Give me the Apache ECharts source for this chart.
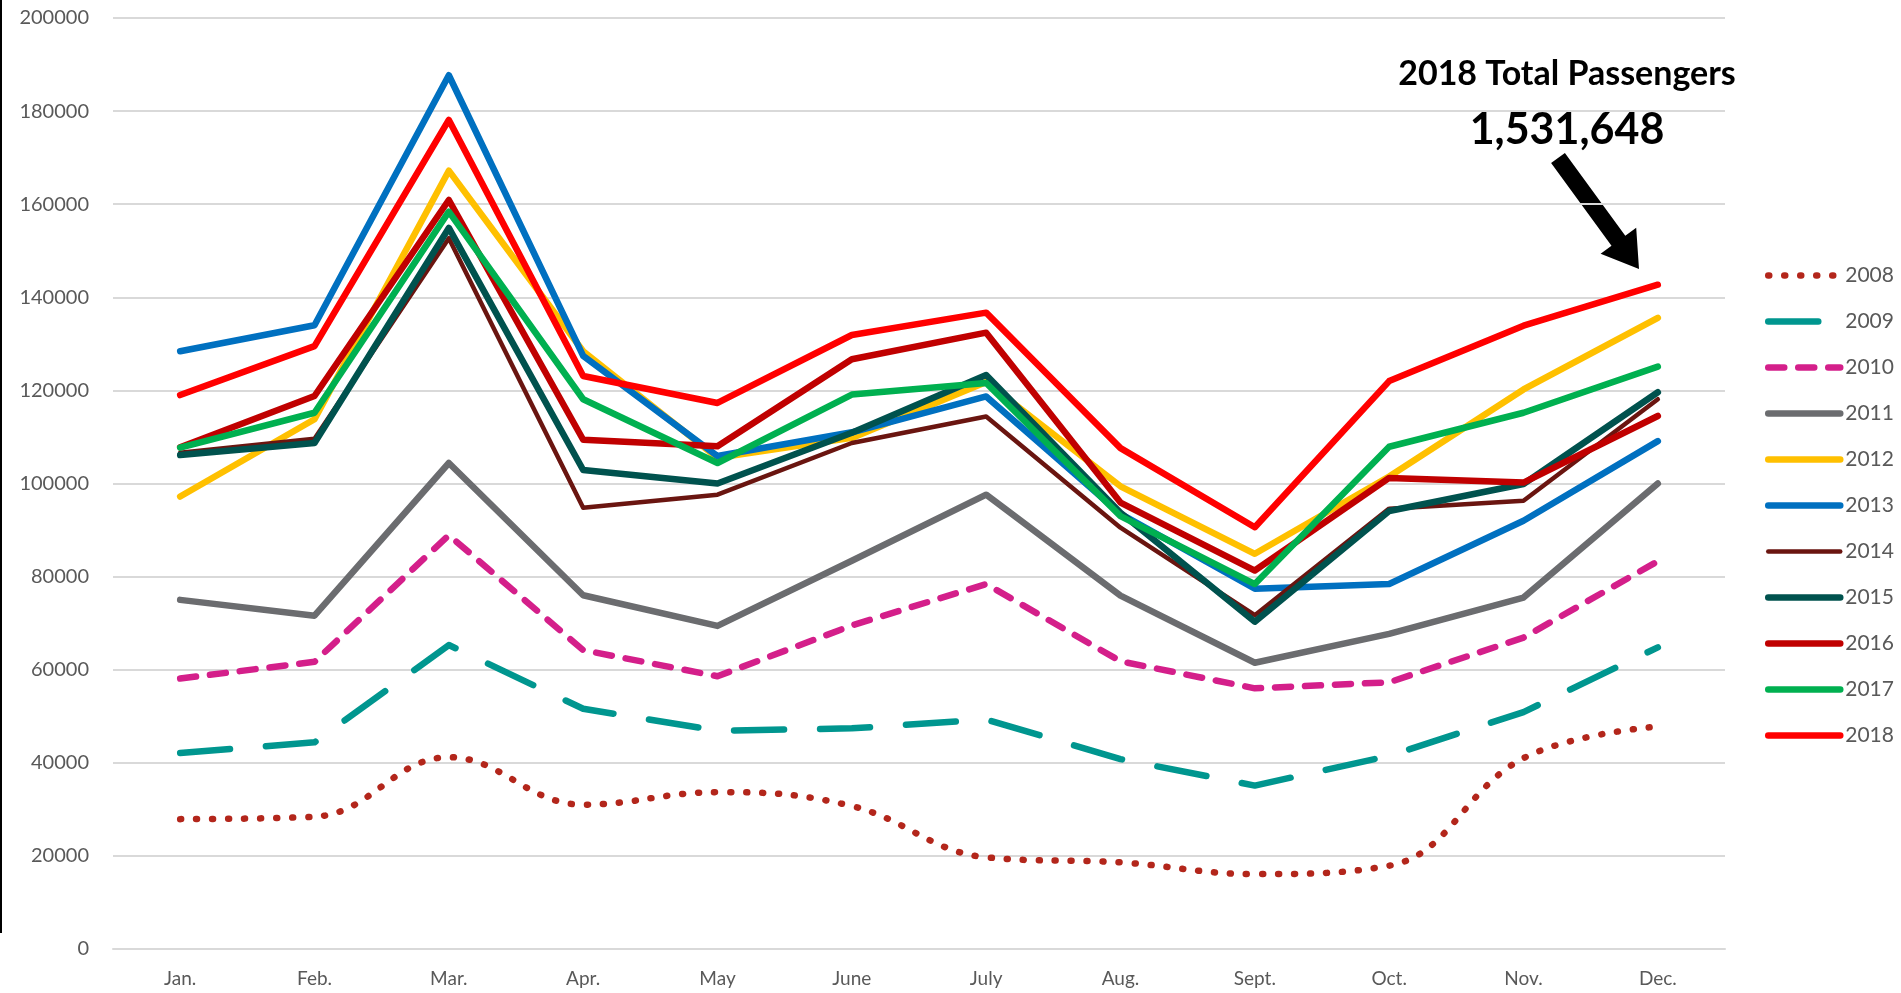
<!DOCTYPE html>
<html>
<head>
<meta charset="utf-8">
<script src="https://cdn.jsdelivr.net/npm/echarts@6/dist/echarts.min.js"></script>
<style>
    html, body { margin: 0; padding: 0; background: #fff; }
    #main { width: 1901px; height: 993px; }
</style>
</head>
<body>
<div id="main"></div>
<script>
// 月份
var months = ['Jan.', 'Feb.', 'Mar.', 'Apr.', 'May', 'June', 'July', 'Aug.', 'Sept.', 'Oct.', 'Nov.', 'Dec.'];

// y轴刻度
var yTicks = [0, 20000, 40000, 60000, 80000, 100000, 120000, 140000, 160000, 180000, 200000];

// 每年各月乘客数
var y2008 = [27900, 28400, 41200, 31000, 33700, 30700, 19700, 18600, 16100, 17900, 41000, 47800];
var y2009 = [42100, 44400, 65300, 51600, 46900, 47400, 49300, 40800, 35100, 41500, 50900, 64800];
var y2010 = [58100, 61700, 88900, 64200, 58600, 69500, 78400, 61800, 56000, 57300, 66900, 83300];
var y2011 = [75000, 71600, 104400, 76000, 69400, 83400, 97600, 75900, 61500, 67700, 75500, 100000];
var y2012 = [97200, 113800, 167200, 128400, 105500, 109800, 121800, 99400, 84900, 101500, 120200, 135600];
var y2013 = [128400, 134000, 187700, 127400, 105900, 111000, 118700, 93500, 77400, 78400, 92000, 109100];
var y2014 = [106600, 109600, 152700, 94800, 97600, 108700, 114400, 90500, 71700, 94600, 96300, 118100];
var y2015 = [106100, 108700, 154900, 102900, 100000, 110900, 123300, 93700, 70300, 94100, 99900, 119600];
var y2016 = [107800, 118800, 160900, 109400, 108000, 126700, 132400, 95900, 81300, 101200, 100200, 114500];
var y2017 = [107700, 115200, 158400, 118100, 104400, 119100, 121600, 93000, 78400, 107900, 115200, 125100];
var y2018 = [119000, 129500, 178100, 123100, 117300, 131900, 136700, 107600, 90600, 122000, 133900, 142700];

var years = ['2008', '2009', '2010', '2011', '2012', '2013', '2014', '2015', '2016', '2017', '2018'];
var values = [y2008, y2009, y2010, y2011, y2012, y2013, y2014, y2015, y2016, y2017, y2018];
var colors = ['#B3261B', '#00968F', '#D41F8A', '#6B6C6F', '#FFC000', '#0070C0', '#6A1510', '#00524E', '#C00000', '#00B050', '#FF0000'];

function lineFor(i) {
    var s = { width: 6.5, color: colors[i], cap: 'round', join: 'round' };
    if (i === 0) { s.type = [1, 15]; }          // 点线
    if (i === 1) { s.type = [50, 36]; }         // 长虚线
    if (i === 2) { s.type = [16, 14]; }         // 虚线
    if (i === 6) { s.width = 4.5; }
    return s;
}

var series = years.map(function (y, i) {
    return {
        name: y,
        type: 'line',
        data: values[i],
        symbol: 'none',
        smooth: i === 0 ? 0.4 : false,
        lineStyle: lineFor(i),
        itemStyle: { color: colors[i] }
    };
});

// 图例: 只画线, 不画圆点
var legendData = years.map(function (y, i) {
    return { name: y, itemStyle: { opacity: 0 }, lineStyle: lineFor(i) };
});

var chart = echarts.init(document.getElementById('main'));

var option = {
    animation: false,
    textStyle: { fontFamily: 'Lato' },
    grid: { left: 113, right: 176, top: 18, bottom: 44 },
    legend: {
        orient: 'vertical',
        left: 1760,
        top: 260,
        itemWidth: 72,
        itemHeight: 20,
        itemGap: 25,
        itemStyle: { opacity: 0 },
        textStyle: { color: '#595959', fontSize: 21, fontFamily: 'Lato' },
        data: legendData
    },
    xAxis: {
        type: 'category',
        data: months,
        boundaryGap: true,
        axisLine: { lineStyle: { color: '#D9D9D9', width: 2 } },
        axisTick: { show: false },
        axisLabel: { color: '#595959', fontSize: 19, margin: 20 }
    },
    yAxis: {
        type: 'value',
        min: yTicks[0],
        max: yTicks[yTicks.length - 1],
        interval: 20000,
        axisLine: { show: false },
        axisTick: { show: false },
        axisLabel: {
            color: '#595959', fontSize: 20, margin: 24,
            formatter: function (v) { return String(v); }
        },
        splitLine: { lineStyle: { color: '#D9D9D9', width: 2 } }
    },
    graphic: [
        { type: 'rect', left: 0, top: 0, shape: { width: 2, height: 933 }, style: { fill: '#000' } },
        {
            type: 'text', x: 1567, y: 74,
            style: { text: '2018 Total Passengers', fill: '#000', font: 'bold 34px Lato', align: 'center', verticalAlign: 'middle' }
        },
        {
            type: 'text', x: 1567, y: 130,
            style: { text: '1,531,648', fill: '#000', font: 'bold 43px Lato', align: 'center', verticalAlign: 'middle' }
        },
        {
            type: 'polygon',
            shape: { points: [[1564.9, 153.0], [1625.3, 235.7], [1636.2, 227.7], [1639, 269], [1600.6, 253.7], [1611.5, 245.7], [1551.1, 163.0]] },
            style: { fill: '#000' }
        }
    ],
    series: series
};

chart.setOption(option);
</script>
</body>
</html>
